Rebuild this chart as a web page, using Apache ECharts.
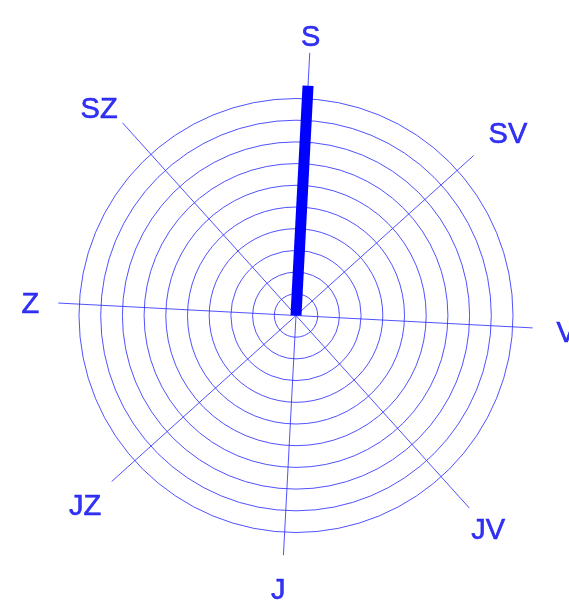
<!DOCTYPE html>
<html>
<head>
<meta charset="utf-8">
<script src="https://cdn.jsdelivr.net/npm/echarts@6/dist/echarts.min.js"></script>
<style>
  html, body { margin: 0; padding: 0; background: #fff; }
  #chart { width: 569px; height: 601px; }
</style>
</head>
<body>
<div id="chart"></div>
<script>
// smerova ruzice - hodnoty v jednotkach kruznic
var directions = ['S', 'SV', 'V', 'JV', 'J', 'JZ', 'Z', 'SZ'];
var angles = [0, 45, 90, 135, 180, 225, 270, 315];
var values = [10.6, 0, 0, 0, 0, 0, 0, 0];
var axisLength = [12.12, 11.01, 10.92, 11.94, 11.06, 11.43, 10.97, 11.94];
var labelDist = [12.9, 12.88, 12.47, 13.24, 12.65, 13.06, 12.25, 13.18];
var labelAngle = [0, 46.3, 90.5, 135, 180.7, 225.1, 269.6, 313.5];
var rings = 10;
var radiusMax = 14;

var ringColor = 'rgba(50,50,255,0.85)';
var ringColors = [];
for (var i = 0; i <= radiusMax; i++) {
  ringColors.push(i >= 1 && i <= rings ? ringColor : 'rgba(0,0,0,0)');
}

var series = [];

// paprsky
directions.forEach(function (d, i) {
  series.push({
    type: 'line',
    coordinateSystem: 'polar',
    symbol: 'none',
    silent: true,
    clip: false,
    lineStyle: { color: ringColor, width: 1 },
    data: [[0, angles[i]], [axisLength[i], angles[i]]]
  });
});

// hodnoty
directions.forEach(function (d, i) {
  series.push({
    type: 'line',
    coordinateSystem: 'polar',
    symbol: 'none',
    silent: true,
    clip: false,
    z: 5,
    lineStyle: { color: '#0000ff', width: 11, cap: 'butt' },
    data: [[0, angles[i]], [values[i], angles[i]]]
  });
});

// popisky
series.push({
  type: 'scatter',
  coordinateSystem: 'polar',
  symbolSize: 1,
  silent: true,
  clip: false,
  itemStyle: { color: 'rgba(0,0,0,0)' },
  label: {
    show: true,
    position: 'inside',
    formatter: '{b}',
    color: '#0000f0',
    textBorderColor: '#0000f0',
    textBorderWidth: 0.6,
    fontSize: 29,
    fontFamily: 'Liberation Sans',
    offset: [0, 2]
  },
  data: directions.map(function (d, i) {
    return { name: d, value: [labelDist[i], labelAngle[i]] };
  })
});

var myChart = echarts.init(document.getElementById('chart'));
var option = {
  animation: false,
  backgroundColor: '#ffffff',
  polar: {
    center: [296, 315.5],
    radius: radiusMax * 21.7
  },
  angleAxis: {
    type: 'value',
    min: 0,
    max: 360,
    interval: 45,
    startAngle: 87,
    clockwise: true,
    axisLine: { show: false },
    axisTick: { show: false },
    axisLabel: { show: false },
    splitLine: { show: false }
  },
  radiusAxis: {
    type: 'value',
    min: 0,
    max: radiusMax,
    interval: 1,
    axisLine: { show: false },
    axisTick: { show: false },
    axisLabel: { show: false },
    splitLine: {
      show: true,
      lineStyle: { color: ringColors, width: 1 }
    }
  },
  series: series
};
myChart.setOption(option, true);
</script>
</body>
</html>
